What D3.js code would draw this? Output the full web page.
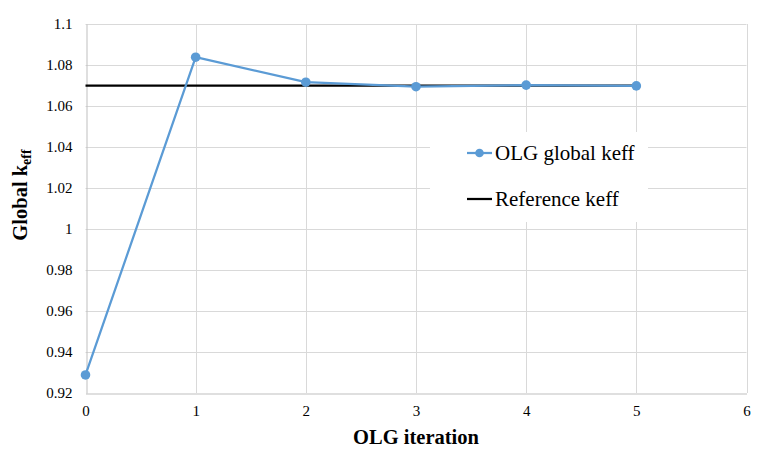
<!DOCTYPE html>
<html><head><meta charset="utf-8">
<script src="https://cdn.jsdelivr.net/npm/d3@7"></script>
<style>body{margin:0;background:#fff}svg{display:block}svg text{font-family:"Liberation Serif","Times New Roman",serif}</style>
</head><body>
<svg id="c" width="770" height="464"></svg>
<script>
const iterations = [0, 1, 2, 3, 4, 5];
const olgKeff = [0.9288, 1.0838, 1.0716, 1.0694, 1.0702, 1.0698];
const referenceKeff = [1.0699, 1.0699, 1.0699, 1.0699, 1.0699, 1.0699];
const xTicks = [0, 1, 2, 3, 4, 5, 6];
const yTicks = [0.92, 0.94, 0.96, 0.98, 1, 1.02, 1.04, 1.06, 1.08, 1.1];
const seriesNames = ["OLG global keff", "Reference keff"];

const svg = d3.select("#c");
const x = d3.scaleLinear().domain([0, 6]).range([85.5, 746.5]);
const y = d3.scaleLinear().domain([0.92, 1.1]).range([393, 24]);
const serif = '"Liberation Serif","Times New Roman",serif';

// gridlines
svg.append("g").selectAll("line").data(yTicks.slice(1)).join("line")
  .attr("x1", x(0)).attr("x2", x(6))
  .attr("y1", d => Math.round(y(d)) + 0.5).attr("y2", d => Math.round(y(d)) + 0.5)
  .attr("stroke", "#d9d9d9").attr("stroke-width", 1);
svg.append("g").selectAll("line").data(xTicks.slice(1)).join("line")
  .attr("x1", d => Math.round(x(d)) + 0.5).attr("x2", d => Math.round(x(d)) + 0.5)
  .attr("y1", y(0.92)).attr("y2", y(1.1))
  .attr("stroke", "#d9d9d9").attr("stroke-width", 1);

// axes
const xAxis = d3.axisBottom(x).tickValues(xTicks).tickSize(0).tickPadding(12).tickFormat(d3.format("d"));
const gx = svg.append("g").attr("transform", `translate(0,${Math.round(y(0.92)) + 0.5})`).call(xAxis)
  .attr("font-family", null);
gx.select(".domain").attr("stroke", "#bfbfbf");
gx.selectAll("text").style("font-family", serif).style("font-size", "15px").attr("fill", "#000");

const yAxis = d3.axisLeft(y).tickValues(yTicks).tickSize(0).tickPadding(14).tickFormat(d => String(+d.toFixed(2)));
const gy = svg.append("g").attr("transform", `translate(${Math.round(x(0)) + 0.5},0)`).call(yAxis)
  .attr("font-family", null);
gy.select(".domain").attr("stroke", "#bfbfbf");
gy.selectAll("text").style("font-family", serif).style("font-size", "15px").attr("fill", "#000");

// reference line
const line = d3.line().x((d, i) => x(iterations[i])).y(d => y(d));
svg.append("path").datum(referenceKeff).attr("d", line)
  .attr("fill", "none").attr("stroke", "#000").attr("stroke-width", 2.25);

// OLG series
svg.append("path").datum(olgKeff).attr("d", line)
  .attr("fill", "none").attr("stroke", "#5b9bd5").attr("stroke-width", 2.25).attr("stroke-linejoin", "round");
svg.append("g").selectAll("circle").data(olgKeff).join("circle")
  .attr("cx", (d, i) => x(iterations[i])).attr("cy", d => y(d)).attr("r", 4.8)
  .attr("fill", "#5b9bd5");

// legend
const lg = svg.append("g");
lg.append("rect").attr("x", 430).attr("y", 132).attr("width", 218).attr("height", 90).attr("fill", "#fff");
const items = [
  {name: seriesNames[0], color: "#5b9bd5", marker: true, cy: 153},
  {name: seriesNames[1], color: "#000", marker: false, cy: 199}
];
items.forEach(it => {
  lg.append("line").attr("x1", 467).attr("x2", 492).attr("y1", it.cy).attr("y2", it.cy)
    .attr("stroke", it.color).attr("stroke-width", 2.25);
  if (it.marker) lg.append("circle").attr("cx", 479.5).attr("cy", it.cy).attr("r", 4.3).attr("fill", it.color);
  lg.append("text").attr("x", 495).attr("y", it.cy).attr("dy", "0.35em")
    .style("font-family", serif).style("font-size", "21px").attr("fill", "#000").text(it.name);
});

// axis titles
svg.append("text").attr("x", x(3)).attr("y", 444).attr("text-anchor", "middle")
  .style("font-family", serif).style("font-size", "20.5px").style("font-weight", "bold").text("OLG iteration");
const yt = svg.append("text").attr("transform", "translate(27,195) rotate(-90)").attr("text-anchor", "middle")
  .style("font-family", serif).style("font-size", "20.5px").style("font-weight", "bold");
yt.append("tspan").text("Global k");
yt.append("tspan").attr("dy", 4).style("font-size", "14px").text("eff");
</script>
</body></html>
